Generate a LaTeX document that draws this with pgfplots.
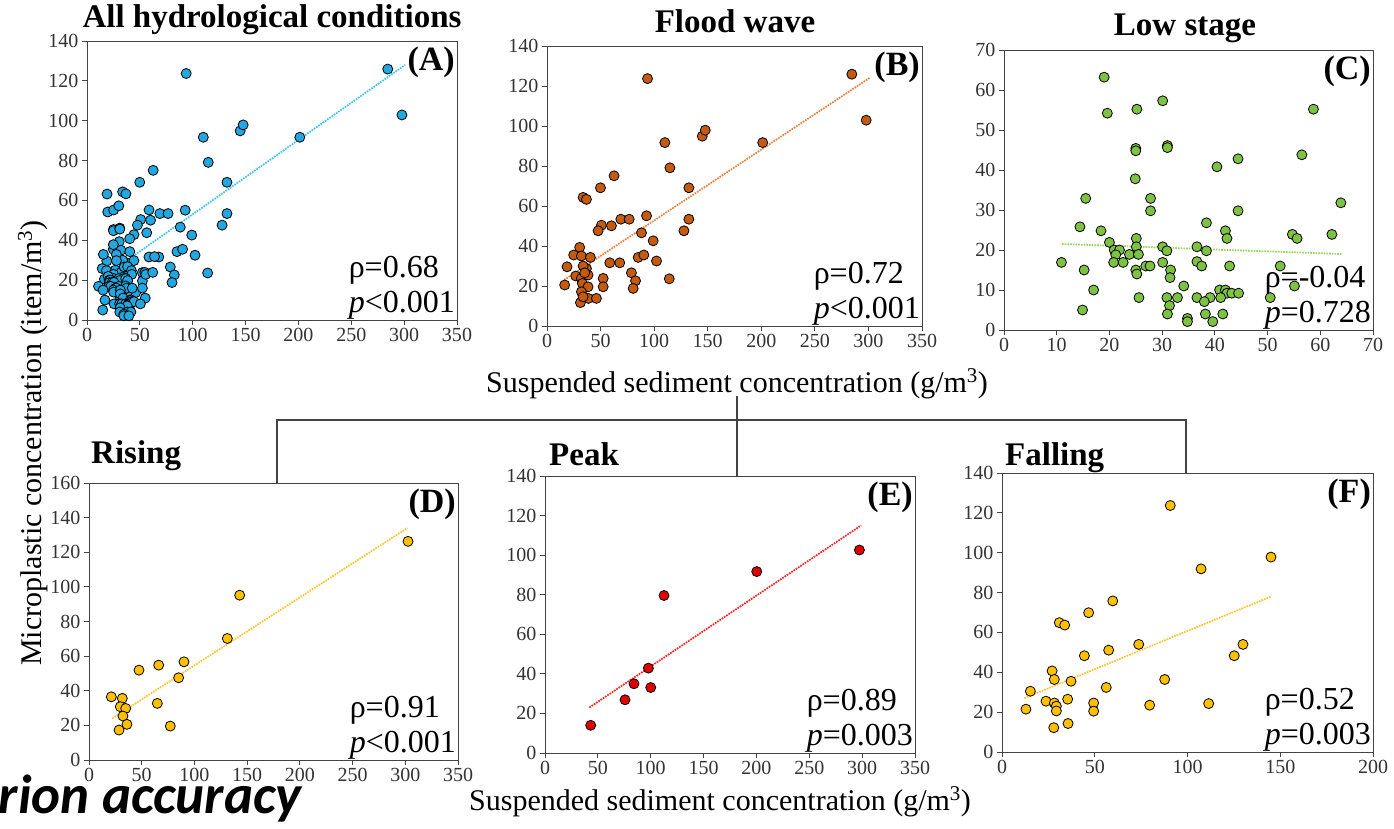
\documentclass[border=0pt]{standalone}
\usepackage{pgfplots}
\pgfplotsset{compat=1.18}
\usepackage{pgfplotstable}
\usepackage{fontspec}
\setmainfont{Liberation Serif}
\newfontfamily\slidefont{Carlito}

\definecolor{afill}{HTML}{22A7E0}
\definecolor{aline}{HTML}{40C4F0}
\definecolor{bfill}{HTML}{C55A11}
\definecolor{bline}{HTML}{E8823C}
\definecolor{cfill}{HTML}{7DC242}
\definecolor{cline}{HTML}{9BD45A}
\definecolor{dfill}{HTML}{FFC000}
\definecolor{dline}{HTML}{FFC530}
\definecolor{efill}{HTML}{E00000}
\definecolor{eline}{HTML}{FF2020}
\definecolor{axgray}{HTML}{444444}

% flood wave samples (x = SSC g/m3, y = MP item/m3)
\pgfplotstableread{
x y
93.8 123.7
284.5 125.9
297.9 102.9
110.0 91.7
201.3 91.7
144.9 94.9
147.7 97.9
114.7 79.1
62.6 75.1
49.9 69.1
132.4 69.1
33.7 64.3
36.8 63.3
92.9 55.1
132.4 53.4
68.9 53.4
76.7 53.4
50.8 50.4
60.1 50.1
47.7 47.6
127.8 47.6
88.2 46.6
99.1 42.6
30.5 39.3
24.9 35.5
32.1 35.0
40.5 34.3
85.1 34.3
90.4 35.5
102.2 32.5
58.6 31.6
67.9 31.6
18.7 29.6
36.8 28.8
33.7 30.0
78.8 26.6
82.6 22.6
80.4 18.8
114.1 23.6
52.4 23.8
52.4 19.6
26.8 25.0
32.1 23.8
38.3 25.5
16.5 20.5
33.0 21.3
38.3 19.6
32.1 17.1
31.2 11.7
38.6 13.8
46.1 13.8
33.7 14.6
35.2 26.6
}\floodtbl

% low stage samples
\pgfplotstableread{
x y
19.0 63.2
19.6 54.2
25.2 55.2
30.1 57.3
58.7 55.2
25.0 45.4
25.0 44.8
31.0 46.1
31.0 45.6
56.5 43.8
44.4 42.8
40.4 40.8
24.9 37.8
15.5 32.9
27.8 32.9
27.8 29.8
44.4 29.8
63.9 31.8
38.4 26.8
14.4 25.8
18.4 24.8
42.0 24.8
42.3 22.9
54.7 23.9
55.6 22.9
62.2 23.9
25.1 22.9
25.1 20.8
20.0 21.9
30.1 20.8
30.9 19.8
36.6 20.8
38.4 19.8
20.9 20.0
21.9 20.0
21.2 18.8
23.8 18.9
25.5 18.9
10.9 16.9
20.8 16.9
22.6 16.9
30.1 16.9
26.9 16.0
27.7 16.0
36.6 17.1
37.5 16.0
42.8 16.0
52.4 16.0
15.2 15.0
25.0 15.0
25.2 14.0
31.6 15.0
31.5 13.1
17.0 10.0
34.1 11.0
55.1 11.0
25.6 8.1
30.9 8.1
32.9 8.1
36.6 8.1
39.1 8.1
40.9 10.0
42.0 10.0
42.3 9.2
41.1 8.1
43.2 9.2
44.5 9.2
50.5 8.1
38.0 7.1
31.4 6.1
31.0 4.0
38.2 4.0
41.5 4.0
14.9 5.0
34.8 2.9
34.8 2.1
39.6 2.1
}\lowtbl

% rising limb
\pgfplotstableread{
x y
302.6 126.3
142.9 95.2
131.2 70.2
90.1 56.7
66.1 54.8
47.4 51.9
85.0 47.5
64.8 32.7
77.1 19.6
21.2 36.5
31.6 35.6
29.7 30.8
34.8 29.8
32.2 25.4
36.0 20.6
28.5 17.3
}\risetbl

% peak
\pgfplotstableread{
x y
297.4 102.6
200.3 91.7
112.6 79.6
97.8 42.9
100.0 33.1
84.2 35.0
75.7 26.9
43.2 14.0
}\peaktbl

% falling limb
\pgfplotstableread{
x y
90.7 123.7
145.0 97.8
107.3 91.9
59.7 75.8
46.7 69.9
30.9 64.9
33.8 63.7
73.7 54.0
129.9 54.0
57.5 51.1
125.2 48.3
44.4 48.3
27.0 40.7
28.2 36.4
37.2 35.5
87.7 36.4
56.2 32.4
15.3 30.5
35.4 26.5
23.7 25.5
28.2 24.6
29.3 23.0
29.3 20.6
49.4 24.6
49.4 20.5
79.6 23.5
111.4 24.3
12.9 21.5
27.9 12.2
35.6 14.3
}\falltbl

\pgfplotsset{
  panel/.style={
    scale only axis, anchor=south west,
    axis line style={axgray, line width=0.9pt},
    xtick pos=bottom, ytick pos=left, tick align=outside,
    major tick length=5pt,
    tick style={axgray, line width=0.9pt},
    tick label style={font=\fontsize{20}{20}\selectfont, text=black!80},
    /pgf/number format/assume math mode=true,
    clip=false,
  },
  dots/.style={only marks, mark=*, mark size=5pt,
    mark options={draw=black, line width=0.8pt, fill=#1}},
  trend/.style={draw=#1, densely dotted, line width=1.7pt, no marks},
}
\tikzset{
  stat/.style={anchor=south east, align=left, inner sep=0pt,
    font=\fontsize{32}{35}\selectfont, xshift=-2pt},
  tag/.style={anchor=north east, inner sep=0pt,
    font=\bfseries\fontsize{34}{34}\selectfont, xshift=-2pt, yshift=-6pt},
}

\begin{document}
\begin{tikzpicture}
\useasboundingbox (0,0) rectangle (1394pt,-829pt);

% connector between flood wave and its three stages
\draw[axgray, line width=1.3pt] (277pt,-483pt) -- (277pt,-420pt) -- (1186pt,-420pt) -- (1186pt,-473pt);
\draw[axgray, line width=1.3pt] (737pt,-396pt) -- (737pt,-476pt);

% (A) all conditions = flood wave + low stage
\begin{axis}[panel, at={(87pt,-320pt)}, width=370pt, height=279pt,
  xmin=0, xmax=350, ymin=0, ymax=140,
  xtick={0,50,...,350}, ytick={0,20,...,140}]
\addplot[trend=aline] coordinates {(14,21) (301,128)};
\addplot[dots=afill] table {\floodtbl};
\addplot[dots=afill] table {\lowtbl};
\node[tag] at (rel axis cs:1,1) {(A)};
\node[stat] at (rel axis cs:1,0) {ρ=0.68\\\textit{p}<0.001};
\end{axis}

% (B) flood wave
\begin{axis}[panel, at={(547pt,-326pt)}, width=375pt, height=280pt,
  xmin=0, xmax=350, ymin=0, ymax=140,
  xtick={0,50,...,350}, ytick={0,20,...,140}]
\addplot[trend=bline] coordinates {(16,23) (301,124)};
\addplot[dots=bfill] table {\floodtbl};
\node[tag] at (rel axis cs:1,1) {(B)};
\node[stat] at (rel axis cs:1,0) {ρ=0.72\\\textit{p}<0.001};
\end{axis}

% (C) low stage
\begin{axis}[panel, at={(1004pt,-330pt)}, width=369pt, height=280pt,
  xmin=0, xmax=70, ymin=0, ymax=70,
  xtick={0,10,...,70}, ytick={0,10,...,70}]
\addplot[trend=cline] coordinates {(11,21.5) (64,19)};
\addplot[dots=cfill] table {\lowtbl};
\node[tag] at (rel axis cs:1,1) {(C)};
\node[stat] at (rel axis cs:1,0) {ρ=-0.04\\\textit{p}=0.728};
\end{axis}

% (D) rising
\begin{axis}[panel, at={(89pt,-760pt)}, width=369pt, height=277pt,
  xmin=0, xmax=350, ymin=0, ymax=160,
  xtick={0,50,...,350}, ytick={0,20,...,160}]
\addplot[trend=dline] coordinates {(22,24) (302,134)};
\addplot[dots=dfill] table {\risetbl};
\node[tag] at (rel axis cs:1,1) {(D)};
\node[stat] at (rel axis cs:1,0) {ρ=0.91\\\textit{p}<0.001};
\end{axis}

% (E) peak
\begin{axis}[panel, at={(545pt,-753pt)}, width=370pt, height=277pt,
  xmin=0, xmax=350, ymin=0, ymax=140,
  xtick={0,50,...,350}, ytick={0,20,...,140}]
\addplot[trend=eline] coordinates {(42,23) (299,115)};
\addplot[dots=efill] table {\peaktbl};
\node[tag] at (rel axis cs:1,1) {(E)};
\node[stat] at (rel axis cs:1,0) {ρ=0.89\\\textit{p}=0.003};
\end{axis}

% (F) falling
\begin{axis}[panel, at={(1002pt,-752pt)}, width=371pt, height=279pt,
  xmin=0, xmax=200, ymin=0, ymax=140,
  xtick={0,50,...,200}, ytick={0,20,...,140}]
\addplot[trend=dline] coordinates {(12,27) (145,78)};
\addplot[dots=dfill] table {\falltbl};
\node[tag] at (rel axis cs:1,1) {(F)};
\node[stat] at (rel axis cs:1,0) {ρ=0.52\\\textit{p}=0.003};
\end{axis}

% panel titles
\begin{scope}[every node/.style={font=\bfseries\fontsize{33}{33}\selectfont, inner sep=0pt}]
\node[anchor=base] at (272pt,-28pt) {All hydrological conditions};
\node[anchor=base] at (735pt,-33pt) {Flood wave};
\node[anchor=base] at (1185pt,-36pt) {Low stage};
\node[anchor=base west] at (91pt,-463pt) {Rising};
\node[anchor=base west] at (549pt,-465pt) {Peak};
\node[anchor=base west] at (1005pt,-465pt) {Falling};
\end{scope}

% shared axis titles
\begin{scope}[every node/.style={font=\fontsize{30}{30}\selectfont, inner sep=0pt}]
\node[anchor=base] at (737pt,-392pt) {Suspended sediment concentration (g/m\textsuperscript{3})};
\node[anchor=base] at (720pt,-810pt) {Suspended sediment concentration (g/m\textsuperscript{3})};
\node[anchor=base, rotate=90] at (41pt,-443pt) {Microplastic concentration (item/m\textsuperscript{3})};
\end{scope}

% leftover slide text at the lower left
\node[anchor=base east, inner sep=0pt, font=\slidefont\bfseries\itshape\fontsize{55}{55}\selectfont]
  at (302pt,-813pt) {rion accuracy};
\end{tikzpicture}
\end{document}
